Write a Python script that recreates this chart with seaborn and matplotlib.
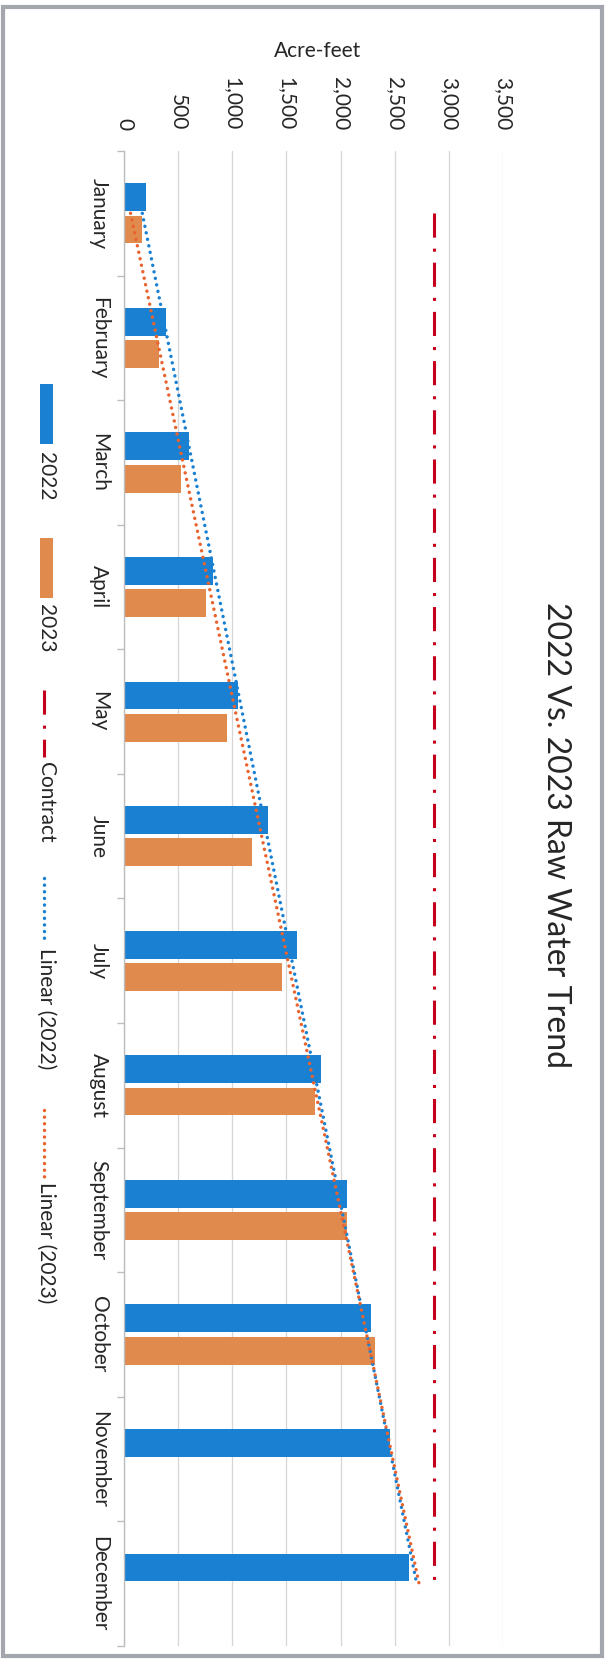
import numpy as np
import pandas as pd
import matplotlib
matplotlib.use("Agg")
import matplotlib.pyplot as plt
from matplotlib.patches import Rectangle
import seaborn as sns

# Monthly raw water (acre-feet)
months = ['January', 'February', 'March', 'April', 'May', 'June', 'July',
          'August', 'September', 'October', 'November', 'December']
v2022 = [200, 390, 600, 818, 1055, 1327, 1595, 1822, 2055, 2284, 2454, 2633]
v2023 = [170, 327, 525, 753, 950, 1182, 1460, 1764, 2058, 2315]
contract = [2860, 2860, 2860, 2860, 2860, 2860, 2860, 2860, 2860, 2860, 2860, 2860]
val_ticks = [0, 500, 1000, 1500, 2000, 2500, 3000, 3500]
val_labels = ['0', '500', '1,000', '1,500', '2,000', '2,500', '3,000', '3,500']

blue = '#1a80d2'
orange = '#e08a4e'
red = '#c4001c'
trend_orange = '#e9632e'
txt = '#262626'

sns.set_style('white')
plt.rcParams['font.family'] = ['Lato', 'DejaVu Sans']

df = pd.concat([
    pd.DataFrame({'Month': months, 'Year': '2022', 'Acre-feet': v2022}),
    pd.DataFrame({'Month': months[:len(v2023)], 'Year': '2023', 'Acre-feet': v2023}),
], ignore_index=True)

W, H = 613, 1667
fig = plt.figure(figsize=(W / 100, H / 100), dpi=100)

# plot area in pixels: x 124..503, y 151..1646 (chart is rotated 90 deg clockwise)
ax = fig.add_axes([124 / W, (H - 1646) / H, (503 - 124) / W, 1495 / H])
sns.barplot(data=df, x='Acre-feet', y='Month', hue='Year', orient='h',
            order=months, hue_order=['2022', '2023'], palette=[blue, orange],
            width=0.52, gap=0.14, errorbar=None, saturation=1, linewidth=0,
            legend=False, ax=ax, zorder=2)

pos = np.arange(len(months))
dash_dot = (0, (7.9, 3.6, 1, 3.6))
dots = (0, (0.01, 1.9))
ax.plot(contract, pos, color=red, lw=2.2, linestyle=dash_dot, zorder=3)

# linear trendlines, same as Excel's "Linear" trendline
fit22 = np.polyfit(np.arange(len(v2022)), v2022, 1)
fit23 = np.polyfit(np.arange(len(v2023)), v2023, 1)
ax.plot(np.polyval(fit22, pos), pos, color=blue, lw=2.5,
        linestyle=dots, dash_capstyle='round', zorder=4)
ax.plot(np.polyval(fit23, pos), pos, color=trend_orange, lw=2.5,
        linestyle=dots, dash_capstyle='round', zorder=4)

ax.set_xlim(0, 3500)
ax.set_ylim(11.5, -0.5)
ax.xaxis.tick_top()
ax.set_xticks(val_ticks)
ax.set_xticklabels(val_labels, rotation=-90, ha='center', va='bottom',
                   fontsize=15, color=txt)
ax.tick_params(axis='x', length=0, pad=15)
ax.grid(axis='x', color='#d6d6d6', lw=0.9, zorder=0)
ax.set_yticks(pos)
ax.set_yticklabels(months, rotation=-90, ha='right', va='center',
                   fontsize=15, color=txt)
ax.set_yticks(np.arange(-0.5, 12, 1), minor=True)
ax.tick_params(axis='y', which='major', length=0, pad=11)
ax.tick_params(axis='y', which='minor', length=5, width=1, color='#bdbdbd', left=True)
ax.set_ylabel('')
ax.set_xlabel('Acre-feet', fontsize=15, color=txt, va='center')
ax.xaxis.set_label_position('top')
ax.xaxis.set_label_coords((318 - 124) / (503 - 124), 1 + (151 - 57) / 1495)
for s in ['top', 'right', 'bottom']:
    ax.spines[s].set_visible(False)
ax.spines['left'].set_color('#bdbdbd')
ax.spines['left'].set_linewidth(1)

# overlay in pixel coordinates for the rotated title, legend and frame
ov = fig.add_axes([0, 0, 1, 1], facecolor='none')
ov.set_xlim(0, W)
ov.set_ylim(H, 0)
ov.axis('off')

ov.add_patch(Rectangle((3, 7), 599, 1649, fill=False, edgecolor='#a3a7ad', lw=3))
ov.text(556, 835, '2022 Vs. 2023 Raw Water Trend', rotation=-90, ha='center',
        va='center', fontsize=23, color=txt)

ov.add_patch(Rectangle((40, 384), 13, 60, color=blue, lw=0))
ov.text(46, 452, '2022', rotation=-90, ha='center', va='top', fontsize=15, color=txt)
ov.add_patch(Rectangle((40, 538), 13, 60, color=orange, lw=0))
ov.text(46, 604, '2023', rotation=-90, ha='center', va='top', fontsize=15, color=txt)
ov.plot([44, 44], [690, 757], color=red, lw=2.2, linestyle=dash_dot)
ov.text(46, 762, 'Contract', rotation=-90, ha='center', va='top', fontsize=15, color=txt)
ov.plot([44, 44], [878, 944], color=blue, lw=2.5, linestyle=dots, dash_capstyle='round')
ov.text(46, 948, 'Linear (2022)', rotation=-90, ha='center', va='top', fontsize=15, color=txt)
ov.plot([44, 44], [1110, 1177], color=trend_orange, lw=2.5, linestyle=dots,
        dash_capstyle='round')
ov.text(46, 1182, 'Linear (2023)', rotation=-90, ha='center', va='top', fontsize=15, color=txt)

fig.savefig('out.png', dpi=100)
